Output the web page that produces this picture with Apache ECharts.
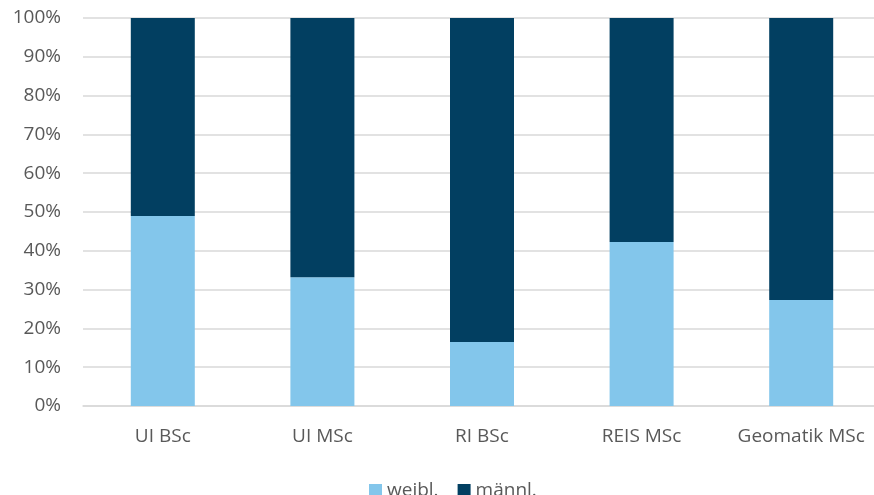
<!DOCTYPE html>
<html>
<head>
<meta charset="utf-8">
<script src="https://cdn.jsdelivr.net/npm/echarts@6/dist/echarts.min.js"></script>
<style>
  html, body { margin: 0; padding: 0; background: #fff; }
  #chart { width: 874px; height: 495px; }
</style>
</head>
<body>
<div id="chart"></div>
<script>
var categories = ['UI BSc', 'UI MSc', 'RI BSc', 'REIS MSc', 'Geomatik MSc'];
var weibl = [49, 33.2, 16.5, 42.3, 27.3];
var maennl = [51, 66.8, 83.5, 57.7, 72.7];

var myChart = echarts.init(document.getElementById('chart'));
var font = 'Open Sans, sans-serif';
option = {
    animation: false,
    color: ['#83C6EB', '#023F61'],
    grid: { left: 83, right: -7, top: 18, bottom: 89, outerBoundsMode: 'none' },
    legend: {
        data: ['weibl.', 'männl.'],
        top: 476,
        left: 364,
        itemWidth: 13,
        itemHeight: 13,
        itemGap: 19,
        icon: 'rect',
        textStyle: { color: '#595959', fontSize: 19, fontFamily: font }
    },
    xAxis: {
        type: 'category',
        data: categories,
        axisTick: { show: false },
        axisLine: { lineStyle: { color: '#d9d9d9', width: 1.5 } },
        axisLabel: { interval: 0, hideOverlap: false, color: '#595959', fontSize: 19, fontFamily: font, margin: 21 }
    },
    yAxis: {
        type: 'value',
        min: 0,
        max: 100,
        interval: 10,
        axisLabel: { formatter: '{value}%', color: '#595959', fontSize: 19, fontFamily: font, margin: 22 },
        splitLine: { lineStyle: { color: '#d9d9d9', width: 1.5 } }
    },
    series: [{
        name: 'weibl.',
        type: 'bar',
        stack: 'total',
        barWidth: 64,
        data: weibl
    }, {
        name: 'männl.',
        type: 'bar',
        stack: 'total',
        barWidth: 64,
        data: maennl
    }]
};
myChart.setOption(option);
</script>
</body>
</html>
